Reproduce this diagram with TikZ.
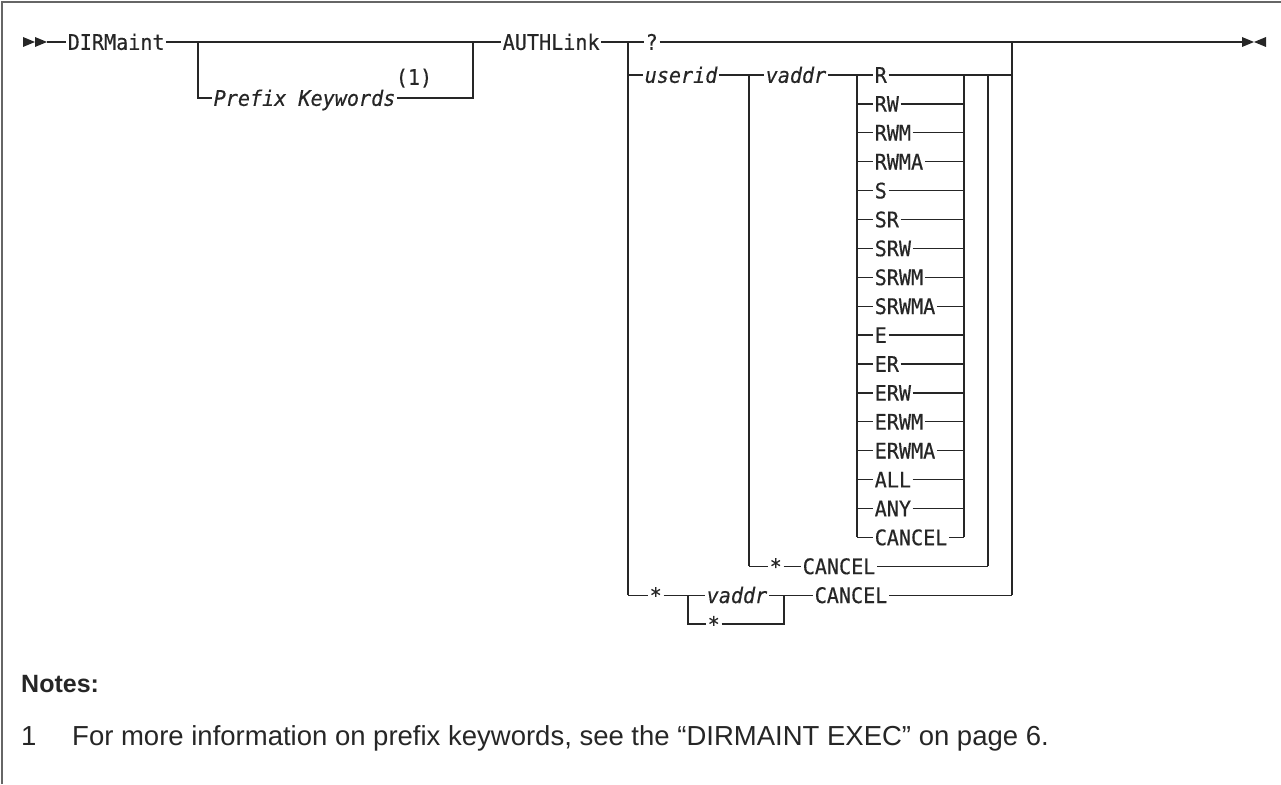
\documentclass[tikz,border=0pt]{standalone}
\usepackage{fontspec}
\setmainfont{Liberation Sans}
\newfontfamily\rrmono[FakeStretch=0.94,FakeBold=0.4]{DejaVu Sans Mono}
\begin{document}
\begin{tikzpicture}[
    x=1pt, y=-1pt,
    rail/.style={draw=black!85, line width=1.3pt},
    kw/.style={anchor=west, font=\rrmono\fontsize{21.4}{25}\selectfont, inner xsep=1.5pt, inner ysep=0pt,
      text height=15.6pt, text depth=0pt, text=black!85},
    var/.style={kw, font=\rrmono\itshape\fontsize{21.4}{25}\selectfont},
    note/.style={anchor=base west, inner sep=0pt, font=\fontsize{27.5}{31}\selectfont, text=black!85},
    tip/.style={fill=black!85},
  ]
  \useasboundingbox (0,0) rectangle (1281,784);
  \draw[draw=black!60, line width=1.6pt] (2,784) -- (2,2) -- (1281,2);

  % start and end marks
  \fill[tip] (23,37) -- (35,42) -- (23,47) -- cycle;
  \fill[tip] (35,37) -- (47,42) -- (35,47) -- cycle;
  \coordinate (start) at (47,42);
  \fill[tip] (1242,37) -- (1254,42) -- (1242,47) -- cycle;
  \fill[tip] (1266,37) -- (1254,42) -- (1266,47) -- cycle;
  \coordinate (stop) at (1242,42);

  % command and prefix
  \node[kw] (dirm) at (66,42) {DIRMaint};
  \coordinate (pa) at (198,42);
  \coordinate (pb) at (473,42);
  \coordinate (pc) at (198,98);
  \coordinate (pd) at (473,98);
  \node[var] (prefix) at (212,98) {Prefix Keywords};
  \node[kw, anchor=center] (fn) at (414,77) {(1)};
  \node[kw] (authl) at (501,42) {AUTHLink};
  \draw[rail] (start) -- (dirm.west);
  \draw[rail] (dirm.east) -- (pa) -- (pb) -- (authl.west);
  \draw[rail] (pa) -- (pc) -- (prefix.west);
  \draw[rail] (prefix.east) -- (pd) -- (pb);

  % operand branches
  \coordinate (ba) at (628,42);
  \coordinate (bb) at (628,75);
  \coordinate (bc) at (628,595.2);
  \coordinate (oa) at (1012,42);
  \coordinate (ob) at (1012,75);
  \coordinate (oc) at (1012,595.2);
  \node[kw] (qm) at (644,42) {?};
  \draw[rail] (authl.east) -- (ba) -- (qm.west);
  \draw[rail] (qm.east) -- (oa) -- (stop);
  \draw[rail] (ba) -- (bc);
  \draw[rail] (oa) -- (oc);

  % userid vaddr mode
  \node[var] (uid) at (643,75) {userid};
  \coordinate (ua) at (749,75);
  \coordinate (ub) at (749,566.3);
  \node[var] (vad) at (764,75) {vaddr};
  \coordinate (ma) at (988,75);
  \coordinate (mb) at (988,566.3);
  \draw[rail] (bb) -- (uid.west);
  \draw[rail] (uid.east) -- (ua) -- (vad.west);
  \draw[rail] (ua) -- (ub);
  \draw[rail] (ma) -- (mb);

  \foreach \p [count=\k from 0] in {R,RW,RWM,RWMA,S,SR,SRW,SRWM,SRWMA,E,ER,ERW,ERWM,ERWMA,ALL,ANY,CANCEL} {
    \coordinate (pl\k) at (857,{75+28.9*\k});
    \coordinate (pr\k) at (964,{75+28.9*\k});
    \node[kw] (pm\k) at (873,{75+28.9*\k}) {\p};
    \draw[rail] (pl\k) -- (pm\k.west);
    \draw[rail] (pm\k.east) -- (pr\k);
  }
  \draw[rail] (vad.east) -- (pl0) -- (pl16);
  \draw[rail] (pr16) -- (pr0) -- (ma) -- (ob);

  % * CANCEL
  \node[kw] (sa) at (768,566.3) {*};
  \node[kw] (ca) at (801,566.3) {CANCEL};
  \draw[rail] (ub) -- (sa.west);
  \draw[rail] (sa.east) -- (ca.west);
  \draw[rail] (ca.east) -- (mb);

  % * vaddr CANCEL
  \node[kw] (sb) at (648,595.2) {*};
  \coordinate (va) at (688,595.2);
  \coordinate (vb) at (784,595.2);
  \coordinate (vc) at (688,624.1);
  \coordinate (vd) at (784,624.1);
  \node[var] (vad2) at (705,595.2) {vaddr};
  \node[kw] (sc) at (706,624.1) {*};
  \node[kw] (cb) at (813,595.2) {CANCEL};
  \draw[rail] (bc) -- (sb.west);
  \draw[rail] (sb.east) -- (va) -- (vad2.west);
  \draw[rail] (vad2.east) -- (vb) -- (cb.west);
  \draw[rail] (cb.east) -- (oc);
  \draw[rail] (va) -- (vc) -- (sc.west);
  \draw[rail] (sc.east) -- (vd) -- (vb);

  % notes
  \node[note, font=\fontsize{25}{29}\selectfont] (notes) at (21,692) {\textbf{Notes:}};
  \node[note] (n1) at (21,745) {1};
  \node[note] (n1t) at (72,745) {For more information on prefix keywords, see the “DIRMAINT EXEC” on page 6.};
\end{tikzpicture}
\end{document}
